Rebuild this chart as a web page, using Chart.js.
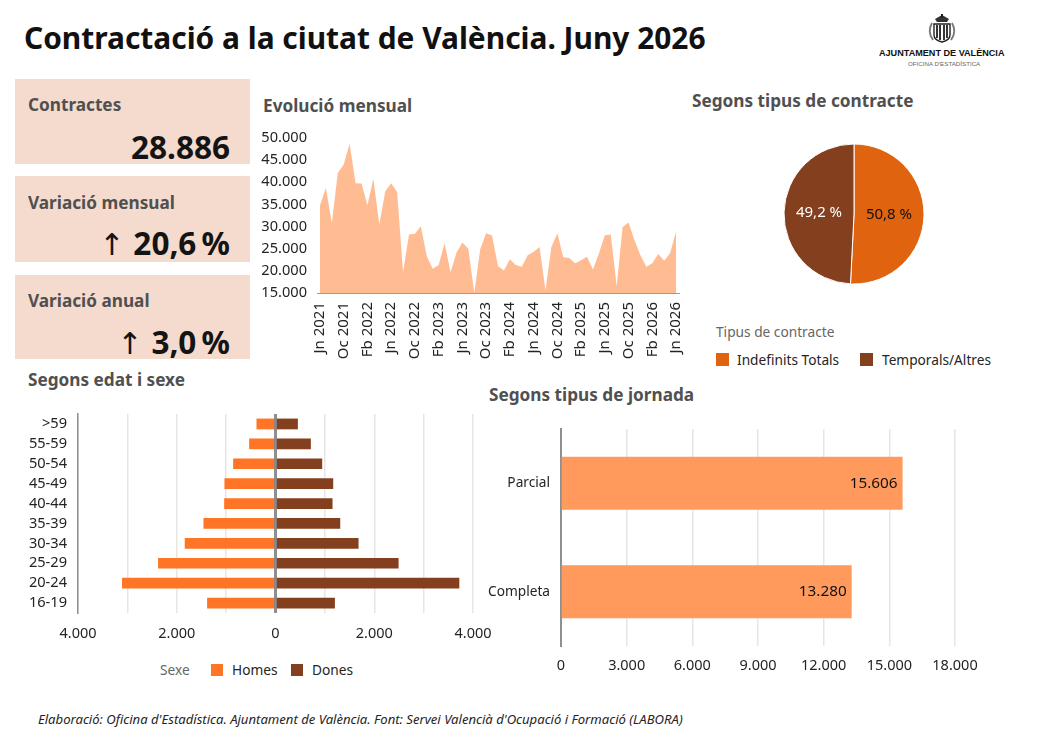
<!DOCTYPE html>
<html lang="ca">
<head>
<meta charset="utf-8">
<title>Contractació a la ciutat de València. Juny 2026</title>
<script src="https://cdn.jsdelivr.net/npm/chart.js@4"></script>
<style>
    html, body { margin: 0; padding: 0; background: #fff; }
    body { width: 1044px; height: 739px; position: relative; overflow: hidden; font-family: "Noto Sans", sans-serif; color: #252423; }
    canvas, .abs { position: absolute; }
    .title { left: 24px; top: 16px; font-size: 29.9px; font-weight: 700; color: #111; white-space: nowrap; line-height: 44px; }
    .section { font-size: 17.2px; font-weight: 700; color: #505050; white-space: nowrap; line-height: 24px; }
    .card { left: 15px; width: 235px; background: #f5dbcd; }
    .card .label { position: absolute; left: 13px; top: 14px; font-size: 17.2px; font-weight: 700; color: #505050; line-height: 24px; white-space: nowrap; }
    .card .value { position: absolute; right: 20px; font-size: 31.5px; font-weight: 700; color: #141414; line-height: 42px; white-space: nowrap; word-spacing: -3px; }
    .card .arrow { font-family: "DejaVu Sans", sans-serif; font-weight: 400; font-size: 30px; margin-right: 9px; }
    .legend-text { font-size: 13.7px; line-height: 18px; white-space: nowrap; }
    .swatch { width: 13px; height: 13px; }
    .note { left: 38px; top: 711px; font-size: 13.1px; font-style: italic; white-space: nowrap; line-height: 17px; }
    .logo-name { left: 879px; top: 47px; font: 700 9.1px "Liberation Sans", sans-serif; color: #111; white-space: nowrap; line-height: 12px; }
    .logo-sub { left: 908px; top: 60px; font: 400 6.2px "Liberation Sans", sans-serif; color: #666; white-space: nowrap; line-height: 8px; }
</style>
</head>
<body>
<div class="abs title">Contractació a la ciutat de València. Juny 2026</div>

<svg class="abs" style="left:926px;top:14px" width="32" height="31" viewBox="0 0 32 31">
    <path d="M9 5 L16 1 L23 5 L21 8 L11 8 Z" fill="#333"/>
    <rect x="15" y="0" width="2" height="4" fill="#222"/>
    <path d="M8 10 H24 V21 Q24 26 16 28 Q8 26 8 21 Z" fill="#fff" stroke="#222" stroke-width="1.4"/>
    <path d="M11 11 V24 M14 11 V26 M18 11 V26 M21 11 V24" stroke="#222" stroke-width="1.8"/>
    <path d="M6 9 Q1 18 7 26 M26 9 Q31 18 25 26" fill="none" stroke="#777" stroke-width="1.8"/>
</svg>
<div class="abs logo-name">AJUNTAMENT DE VALÈNCIA</div>
<div class="abs logo-sub">OFICINA D'ESTADÍSTICA</div>

<div class="abs card" style="top:79px;height:85px">
    <div class="label">Contractes</div>
    <div class="value" style="top:47px">28.886</div>
</div>
<div class="abs card" style="top:176px;height:86px">
    <div class="label" style="top:15px">Variació mensual</div>
    <div class="value" style="top:46px"><span class="arrow">↑</span>20,6 %</div>
</div>
<div class="abs card" style="top:275px;height:84px">
    <div class="label">Variació anual</div>
    <div class="value" style="top:46px"><span class="arrow">↑</span>3,0 %</div>
</div>

<div class="abs section" style="left:263px;top:94px">Evolució mensual</div>
<div class="abs section" style="left:692px;top:89px">Segons tipus de contracte</div>
<div class="abs section" style="left:28px;top:368px">Segons edat i sexe</div>
<div class="abs section" style="left:489px;top:383px">Segons tipus de jornada</div>

<canvas id="monthlyChart" style="left:255px;top:125px"></canvas>
<canvas id="contractChart" style="left:774px;top:134px"></canvas>
<canvas id="pyramidChart" style="left:20px;top:405px"></canvas>
<canvas id="workdayChart" style="left:480px;top:420px"></canvas>

<div class="abs legend-text" style="left:716px;top:323px;color:#666">Tipus de contracte</div>
<div class="abs swatch" style="left:716px;top:353px;background:#e0640f"></div>
<div class="abs legend-text" style="left:737px;top:351px">Indefinits Totals</div>
<div class="abs swatch" style="left:860px;top:353px;background:#843f1e"></div>
<div class="abs legend-text" style="left:882px;top:351px">Temporals/Altres</div>

<div class="abs legend-text" style="left:160px;top:661px;color:#666">Sexe</div>
<div class="abs swatch" style="left:211px;top:664px;width:12px;height:12px;background:#ff7525"></div>
<div class="abs legend-text" style="left:232px;top:661px">Homes</div>
<div class="abs swatch" style="left:291px;top:664px;width:12px;height:12px;background:#843f1e"></div>
<div class="abs legend-text" style="left:312px;top:661px">Dones</div>

<div class="abs note">Elaboració: Oficina d'Estadística. Ajuntament de València. Font: Servei Valencià d'Ocupació i Formació (LABORA)</div>

<script>
const months = [
    'Jn 2021', 'Jl 2021', 'Ag 2021', 'St 2021', 'Oc 2021', 'Nv 2021', 'Ds 2021', 'Gn 2022', 'Fb 2022', 'Mç 2022', 'Ab 2022', 'Mg 2022',
    'Jn 2022', 'Jl 2022', 'Ag 2022', 'St 2022', 'Oc 2022', 'Nv 2022', 'Ds 2022', 'Gn 2023', 'Fb 2023', 'Mç 2023', 'Ab 2023', 'Mg 2023',
    'Jn 2023', 'Jl 2023', 'Ag 2023', 'St 2023', 'Oc 2023', 'Nv 2023', 'Ds 2023', 'Gn 2024', 'Fb 2024', 'Mç 2024', 'Ab 2024', 'Mg 2024',
    'Jn 2024', 'Jl 2024', 'Ag 2024', 'St 2024', 'Oc 2024', 'Nv 2024', 'Ds 2024', 'Gn 2025', 'Fb 2025', 'Mç 2025', 'Ab 2025', 'Mg 2025',
    'Jn 2025', 'Jl 2025', 'Ag 2025', 'St 2025', 'Oc 2025', 'Nv 2025', 'Ds 2025', 'Gn 2026', 'Fb 2026', 'Mç 2026', 'Ab 2026', 'Mg 2026',
    'Jn 2026'
];
const monthlyContracts = [
    34800, 38700, 30800, 42100, 44000, 48700, 39800, 39700, 34800, 40800, 30400, 38000,
    39800, 37800, 19700, 28200, 28400, 30100, 23300, 20500, 21300, 26300, 19700, 24100,
    26400, 25000, 15000, 24900, 28500, 28000, 21100, 20100, 22600, 21300, 20900, 23500,
    24300, 25400, 15600, 25400, 28500, 23100, 22900, 21700, 22400, 23200, 20300, 23900,
    28044, 28200, 16600, 29900, 30900, 26900, 23500, 20900, 21700, 23800, 22300, 23952,
    28886
];

const contractTypes = ['Indefinits Totals', 'Temporals/Altres'];
const contractShares = [50.8, 49.2];

const ageGroups = ['>59', '55-59', '50-54', '45-49', '40-44', '35-39', '30-34', '25-29', '20-24', '16-19'];
const men = [385, 534, 858, 1034, 1040, 1459, 1838, 2378, 3108, 1385];
const women = [453, 716, 946, 1169, 1155, 1311, 1682, 2493, 3723, 1203];

const workdayTypes = ['Parcial', 'Completa'];
const workdayContracts = [15606, 13280];

const textColor = '#252423';
const gridColor = '#e6e6e6';
const axisColor = '#8f8f8f';
const fontFamily = '"Noto Sans", sans-serif';

const thousands = (value) => {
    return String(Math.abs(value)).replace(/\B(?=(\d{3})+$)/g, '.');
};

// Fixes canvas size before Chart.js reads it
const setupCanvas = (id, width, height) => {
    const canvas = document.getElementById(id);
    canvas.width = width;
    canvas.height = height;
    return canvas.getContext('2d');
};

// Gives an axis a set thickness and drops the extra room kept for its end labels
const fixAxis = (prop, size) => (scale) => {
    scale[prop] = size;
    scale.paddingLeft = 0;
    scale.paddingRight = 0;
    scale.paddingTop = 0;
    scale.paddingBottom = 0;
};

const baseOptions = (padding) => ({
    responsive: false,
    animation: false,
    layout: { padding: padding },
    plugins: { legend: { display: false }, tooltip: { enabled: false } }
});

new Chart(setupCanvas('monthlyChart', 430, 240), {
    type: 'line',
    data: {
        labels: months,
        datasets: [{
            data: monthlyContracts,
            fill: 'start',
            backgroundColor: '#ffbc92',
            borderWidth: 0,
            pointRadius: 0,
            tension: 0
        }]
    },
    options: {
        ...baseOptions({ top: 13, right: 6, bottom: 0, left: 0 }),
        scales: {
            x: {
                offset: true,
                grid: { display: false, drawTicks: false },
                border: { color: '#a39a94', width: 1 },
                afterFit: fixAxis('height', 72),
                ticks: {
                    autoSkip: false,
                    maxRotation: 90,
                    minRotation: 90,
                    padding: 9,
                    color: textColor,
                    font: { family: fontFamily, size: 15 },
                    callback: function(value, index) {
                        return index % 4 === 0 ? months[index] : '';
                    }
                }
            },
            y: {
                min: 15000,
                max: 50000,
                grid: { display: false, drawTicks: false },
                border: { display: false },
                afterFit: fixAxis('width', 62),
                ticks: { stepSize: 5000, padding: 10, color: textColor, font: { family: fontFamily, size: 14.6 }, callback: thousands }
            }
        }
    }
});

// Writes each slice's share at the middle of the slice
const sliceLabels = {
    id: 'sliceLabels',
    afterDatasetsDraw(chart) {
        const { ctx } = chart;
        const colors = ['#111111', '#ffffff'];
        ctx.save();
        ctx.font = '15px ' + fontFamily;
        ctx.textAlign = 'center';
        ctx.textBaseline = 'middle';
        chart.getDatasetMeta(0).data.forEach((arc, i) => {
            const point = arc.getCenterPoint();
            ctx.fillStyle = colors[i];
            ctx.fillText(String(contractShares[i]).replace('.', ',') + ' %', point.x, point.y);
        });
        ctx.restore();
    }
};

new Chart(setupCanvas('contractChart', 160, 160), {
    type: 'pie',
    data: {
        labels: contractTypes,
        datasets: [{
            data: contractShares,
            backgroundColor: ['#e0640f', '#843f1e'],
            borderColor: '#ffffff',
            borderWidth: 1
        }]
    },
    options: baseOptions(9.5),
    plugins: [sliceLabels]
});

// Grey line on top of the bars at value zero
const zeroLine = {
    id: 'zeroLine',
    afterDatasetsDraw(chart) {
        const { ctx, chartArea, scales } = chart;
        const x = scales.x.getPixelForValue(0);
        ctx.save();
        ctx.strokeStyle = 'rgba(125, 125, 125, 0.85)';
        ctx.lineWidth = 3;
        ctx.beginPath();
        ctx.moveTo(x, chartArea.top);
        ctx.lineTo(x, chartArea.bottom);
        ctx.stroke();
        ctx.restore();
    }
};

new Chart(setupCanvas('pyramidChart', 475, 240), {
    type: 'bar',
    data: {
        labels: ageGroups,
        datasets: [
            {
                label: 'Homes',
                data: men.map((value) => -value),
                backgroundColor: '#ff7525',
                categoryPercentage: 1,
                barPercentage: 0.54
            },
            {
                label: 'Dones',
                data: women,
                backgroundColor: '#843f1e',
                categoryPercentage: 1,
                barPercentage: 0.54
            }
        ]
    },
    options: {
        ...baseOptions({ top: 9, right: 22, bottom: 0, left: 0 }),
        indexAxis: 'y',
        scales: {
            x: {
                min: -4000,
                max: 4000,
                grid: { color: gridColor, lineWidth: 1.5, drawTicks: false },
                border: { display: false },
                afterFit: fixAxis('height', 32),
                ticks: {
                    stepSize: 1000,
                    autoSkip: false,
                    maxRotation: 0,
                    padding: 12,
                    color: textColor,
                    font: { family: fontFamily, size: 14.5 },
                    callback: (value) => (value % 2000 === 0 ? thousands(value) : '')
                }
            },
            y: {
                stacked: true,
                grid: { display: false, drawTicks: false },
                border: { color: axisColor, width: 1.5 },
                afterFit: fixAxis('width', 58),
                ticks: { autoSkip: false, padding: 11, color: textColor, font: { family: fontFamily, size: 14.6 } }
            }
        }
    },
    plugins: [zeroLine]
});

// Prints the value just inside the end of each bar
const barValues = {
    id: 'barValues',
    afterDatasetsDraw(chart) {
        const { ctx } = chart;
        ctx.save();
        ctx.font = '15.3px ' + fontFamily;
        ctx.fillStyle = '#111111';
        ctx.textAlign = 'right';
        ctx.textBaseline = 'middle';
        chart.getDatasetMeta(0).data.forEach((bar, i) => {
            ctx.fillText(thousands(workdayContracts[i]), bar.x - 5, bar.y);
        });
        ctx.restore();
    }
};

new Chart(setupCanvas('workdayChart', 510, 265), {
    type: 'bar',
    data: {
        labels: workdayTypes,
        datasets: [{
            data: workdayContracts,
            backgroundColor: '#ff9a5c',
            categoryPercentage: 1,
            barPercentage: 0.49
        }]
    },
    options: {
        ...baseOptions({ top: 9, right: 35, bottom: 0, left: 0 }),
        indexAxis: 'y',
        scales: {
            x: {
                min: 0,
                max: 18000,
                grid: { color: gridColor, lineWidth: 1.5, drawTicks: false },
                border: { display: false },
                afterFit: fixAxis('height', 39),
                ticks: { stepSize: 3000, maxRotation: 0, padding: 11, color: textColor, font: { family: fontFamily, size: 14.5 }, callback: thousands }
            },
            y: {
                grid: { display: false, drawTicks: false },
                border: { color: axisColor, width: 2 },
                afterFit: fixAxis('width', 81),
                ticks: { padding: 11, color: textColor, font: { family: fontFamily, size: 13.7 } }
            }
        }
    },
    plugins: [barValues]
});
</script>
</body>
</html>
